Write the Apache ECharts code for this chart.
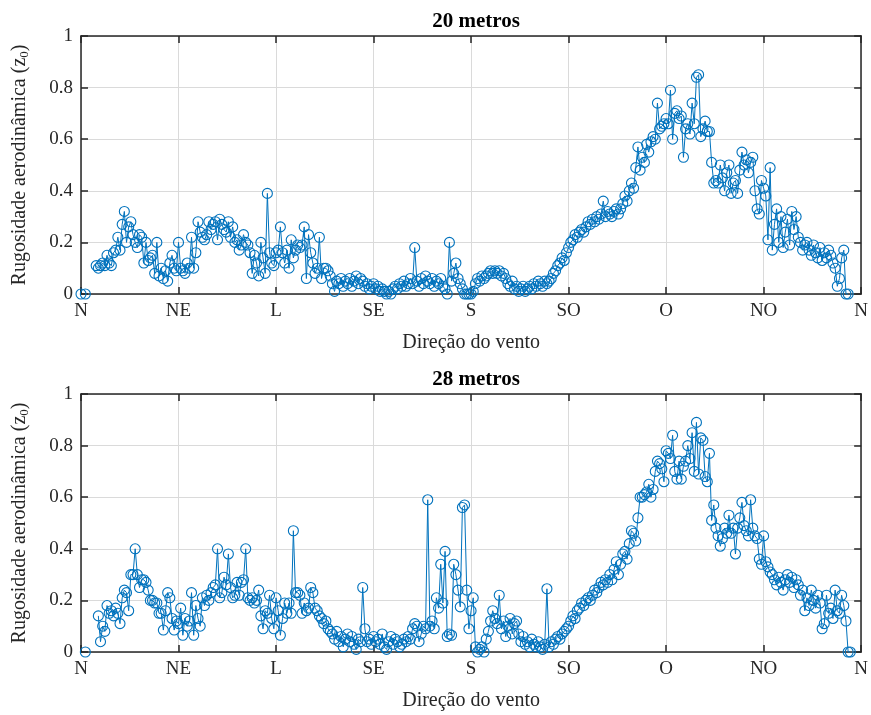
<!DOCTYPE html>
<html>
<head>
<meta charset="utf-8">
<script src="https://cdn.jsdelivr.net/npm/echarts@6/dist/echarts.min.js"></script>
<style>html,body{margin:0;padding:0;background:#fff}#c{width:871px;height:715px}</style>
</head>
<body>
<div id="c"></div>
<script>
// Wind direction tick labels (every 45 degrees)
const dirLabels = ['N','NE','L','SE','S','SO','O','NO','N'];
const titles = ['20 metros', '28 metros'];

// Aerodynamic roughness z0 per wind direction (1 degree steps, index = degree)
const z20 = [
0,null,0,null,null,null,null,0.11,0.10,0.11,
0.12,0.11,0.15,0.12,0.11,0.16,0.17,0.22,0.17,0.27,
0.32,0.20,0.26,0.28,0.23,0.20,0.18,0.23,0.22,0.12,
0.20,0.13,0.14,0.15,0.08,0.20,0.07,0.10,0.06,0.09,
0.05,0.12,0.15,0.10,0.09,0.20,0.10,0.09,0.08,0.12,
0.10,0.22,0.10,0.16,0.28,0.24,0.22,0.21,0.23,0.28,
0.25,0.27,0.28,0.21,0.29,0.27,0.25,0.24,0.28,0.22,
0.26,0.20,0.21,0.17,0.19,0.23,0.20,0.19,0.16,0.08,
0.15,0.12,0.07,0.20,0.14,0.08,0.39,0.16,0.12,0.11,
0.16,0.17,0.26,0.16,0.12,0.17,0.10,0.21,0.14,0.17,
0.19,0.18,0.19,0.26,0.06,0.23,0.16,0.12,0.08,0.10,
0.22,0.06,0.10,0.10,0.09,0.07,0.04,0.01,0.05,0.04,
0.06,0.03,0.05,0.04,0.06,0.03,0.05,0.07,0.04,0.06,
0.05,0.03,0.04,0.02,0.03,0.04,0.02,0.03,0.01,0.02,
0.01,0.00,0.01,0.00,0.02,0.03,0.02,0.04,0.03,0.05,
0.03,0.04,0.06,0.04,0.18,0.05,0.03,0.06,0.04,0.07,
0.05,0.04,0.06,0.03,0.05,0.04,0.06,0.03,0.02,0.00,
0.20,0.05,0.08,0.12,0.06,0.04,0.02,0.00,0.00,0.00,
0.00,0.01,0.04,0.06,0.05,0.07,0.06,0.07,0.08,0.09,
0.08,0.09,0.08,0.09,0.07,0.08,0.06,0.04,0.03,0.05,
0.02,0.03,0.01,0.02,0.03,0.01,0.02,0.03,0.02,0.04,
0.03,0.05,0.04,0.03,0.05,0.04,0.05,0.06,0.08,0.09,
0.11,0.12,0.14,0.13,0.16,0.18,0.20,0.21,0.23,0.22,
0.24,0.25,0.24,0.26,0.28,0.27,0.29,0.28,0.30,0.29,
0.31,0.36,0.30,0.32,0.31,0.30,0.32,0.33,0.31,0.33,
0.35,0.38,0.36,0.40,0.43,0.41,0.49,0.57,0.48,0.53,
0.51,0.58,0.55,0.59,0.61,0.60,0.74,0.64,0.65,0.66,
0.68,0.66,0.79,0.60,0.70,0.71,0.68,0.69,0.53,0.64,
0.66,0.62,0.74,0.66,0.84,0.85,0.61,0.64,0.67,0.63,
0.63,0.51,0.43,0.44,0.43,0.50,0.45,0.40,0.47,0.50,
0.39,0.43,0.44,0.39,0.48,0.55,0.50,0.52,0.47,0.51,
0.53,0.40,0.33,0.31,0.44,0.41,0.38,0.21,0.49,0.17,
0.27,0.33,0.20,0.30,0.18,0.24,0.29,0.19,0.32,0.25,
0.30,0.22,0.20,0.17,0.19,0.20,0.17,0.15,0.19,0.16,
0.14,0.18,0.13,0.16,0.14,0.17,0.15,0.12,0.10,0.03,
0.06,0.14,0.17,0.00,0.00,null,null,null,null,null
];

const z28 = [
null,null,0,null,null,null,null,null,0.14,0.04,
0.10,0.08,0.18,0.15,0.16,0.14,0.17,0.15,0.11,0.21,
0.24,0.23,0.16,0.30,0.30,0.40,0.30,0.25,0.28,0.28,
0.27,0.24,0.20,0.20,0.19,0.19,0.15,0.15,0.085,0.16,
0.23,0.21,0.13,0.085,0.12,0.11,0.17,0.065,0.13,0.10,
0.12,0.23,0.065,0.18,0.13,0.10,0.21,0.18,0.22,0.20,
0.23,0.25,0.26,0.40,0.21,0.23,0.29,0.26,0.38,0.25,
0.21,0.22,0.27,0.22,0.27,0.28,0.40,0.21,0.20,0.21,
0.19,0.20,0.24,0.14,0.09,0.16,0.15,0.22,0.13,0.09,
0.21,0.16,0.065,0.13,0.19,0.15,0.19,0.15,0.47,0.23,
0.23,0.22,0.15,0.19,0.16,0.17,0.25,0.23,0.17,0.16,
0.14,0.13,0.11,0.12,0.09,0.08,0.07,0.05,0.08,0.04,
0.06,0.02,0.05,0.07,0.04,0.06,0.03,0.01,0.05,0.04,
0.25,0.09,0.04,0.05,0.03,0.06,0.04,0.05,0.03,0.07,
0.02,0.01,0.04,0.06,0.03,0.05,0.04,0.02,0.03,0.05,
0.04,0.06,0.05,0.09,0.11,0.10,0.04,0.07,0.10,0.09,
0.59,0.10,0.12,0.09,0.21,0.17,0.34,0.19,0.39,0.06,
0.07,0.065,0.34,0.30,0.24,0.175,0.56,0.57,0.24,0.09,
0.16,0.21,0.02,0.00,0.01,0.02,0.00,0.05,0.08,0.12,
0.16,0.13,0.11,0.22,0.09,0.12,0.06,0.10,0.13,0.07,
0.11,0.12,0.07,0.04,0.06,0.03,0.04,0.02,0.05,0.03,
0.02,0.04,0.02,0.01,0.03,0.245,0.02,0.04,0.03,0.05,
0.06,0.05,0.07,0.08,0.09,0.10,0.12,0.14,0.13,0.16,
0.17,0.19,0.18,0.20,0.21,0.20,0.22,0.24,0.23,0.25,
0.27,0.26,0.28,0.27,0.30,0.28,0.32,0.35,0.30,0.34,
0.38,0.39,0.36,0.42,0.47,0.46,0.43,0.52,0.60,0.60,
0.61,0.62,0.65,0.60,0.63,0.70,0.74,0.73,0.71,0.66,
0.78,0.77,0.75,0.84,0.70,0.67,0.74,0.67,0.72,0.74,
0.80,0.75,0.85,0.70,0.89,0.69,0.83,0.82,0.68,0.66,
0.77,0.51,0.57,0.48,0.45,0.41,0.44,0.48,0.46,0.53,
0.46,0.48,0.38,0.48,0.52,0.58,0.49,0.47,0.45,0.59,
0.48,0.45,0.44,0.36,0.34,0.45,0.35,0.33,0.31,0.30,
0.28,0.26,0.29,0.27,0.24,0.28,0.30,0.27,0.29,0.25,
0.28,0.26,0.22,0.24,0.16,0.21,0.18,0.24,0.20,0.17,
0.22,0.19,0.09,0.11,0.22,0.15,0.17,0.13,0.24,0.16,
0.15,0.22,0.18,0.12,0.00,0.00,null,null,null,null
];

const FONT = 'Liberation Serif';
const BLUE = '#0072BD';
const AX = '#262626';
const grids = [
  {left: 81, right: 9, top: 36, height: 258},
  {left: 81, right: 9, top: 394, height: 258}
];

function toPairs(arr){ return arr.map((v,i)=>[i, v]); }

const xAxes = [], yAxes = [], series = [], titleArr = [];
[z20, z28].forEach((arr, g) => {
  const base = {
    gridIndex: g, type: 'value', min: 0, max: 360, interval: 45,
    axisLine: {show: true, onZero: false, lineStyle: {color: AX, width: 1.5}},
    axisTick: {show: true, inside: true, length: 7, lineStyle: {color: AX, width: 1.5}},
  };
  xAxes.push(Object.assign({}, base, {
    position: 'bottom',
    axisLabel: {show: true, color: AX, fontFamily: FONT, fontSize: 19, margin: 8,
      formatter: v => dirLabels[Math.round(v/45)]},
    splitLine: {show: true, lineStyle: {color: '#dadada', width: 1}},
    name: 'Direção do vento', nameLocation: 'middle', nameGap: 39,
    nameTextStyle: {color: AX, fontFamily: FONT, fontSize: 20}
  }));
  xAxes.push(Object.assign({}, base, {
    position: 'top', axisLabel: {show: false}, splitLine: {show: false}
  }));
  const ybase = {
    gridIndex: g, type: 'value', min: 0, max: 1, interval: 0.2,
    axisLine: {show: true, onZero: false, lineStyle: {color: AX, width: 1.5}},
    axisTick: {show: true, inside: true, length: 7, lineStyle: {color: AX, width: 1.5}},
  };
  yAxes.push(Object.assign({}, ybase, {
    position: 'left',
    axisLabel: {show: true, color: AX, fontFamily: FONT, fontSize: 19, margin: 8},
    splitLine: {show: true, lineStyle: {color: '#dadada', width: 1}},
    name: 'Rugosidade aerodinâmica (z{sub|0})', nameLocation: 'middle', nameGap: 50, nameRotate: 90,
    nameTextStyle: {color: AX, fontFamily: FONT, fontSize: 20,
      rich: {sub: {fontFamily: FONT, fontSize: 13, verticalAlign: 'bottom', padding: [9,0,0,0], color: AX}}}
  }));
  yAxes.push(Object.assign({}, ybase, {
    position: 'right', axisLabel: {show: false}, splitLine: {show: false}
  }));
  titleArr.push({
    text: titles[g], left: 471, top: grids[g].top - 30, textAlign: 'center',
    textStyle: {fontFamily: FONT, fontWeight: 'bold', fontSize: 21, color: '#000'}
  });
  series.push({
    type: 'line', xAxisIndex: g*2, yAxisIndex: g*2, data: toPairs(arr),
    symbol: 'circle', symbolSize: 10, showAllSymbol: true, connectNulls: false, clip: false,
    lineStyle: {color: BLUE, width: 1},
    itemStyle: {color: 'rgba(255,255,255,0)', borderColor: BLUE, borderWidth: 1.1},
    emphasis: {disabled: true}
  });
});

const chart = echarts.init(document.getElementById('c'), null, {renderer: 'canvas'});
chart.setOption({
  animation: false,
  backgroundColor: '#fff',
  title: titleArr,
  grid: grids,
  xAxis: xAxes,
  yAxis: yAxes,
  series: series
});
</script>
</body>
</html>
